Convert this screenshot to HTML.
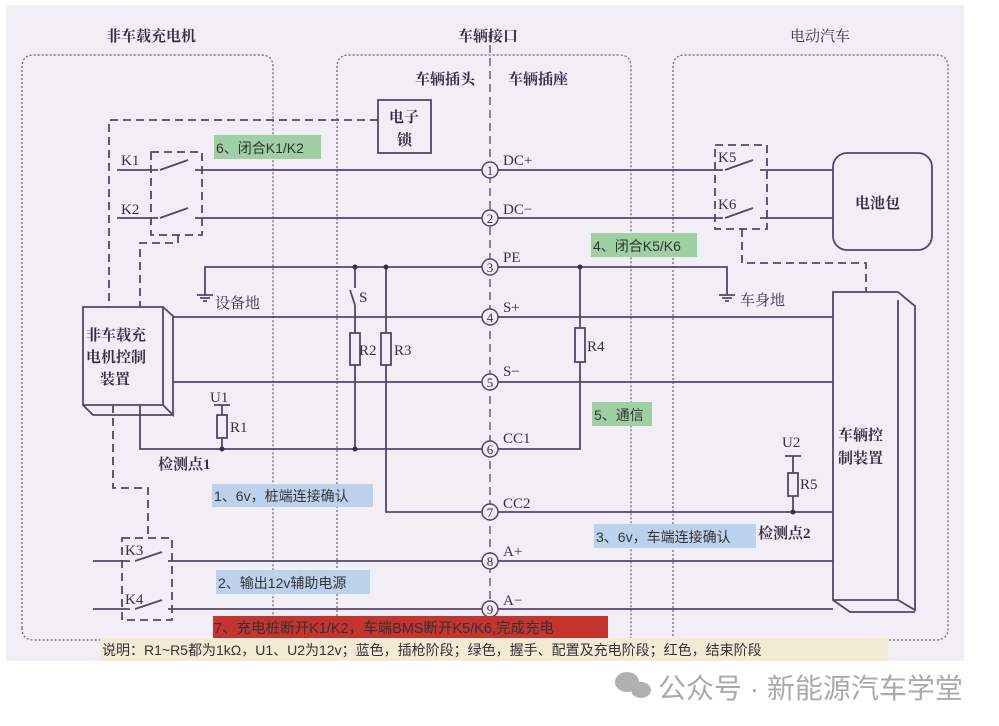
<!DOCTYPE html>
<html><head><meta charset="utf-8"><style>
html,body{margin:0;padding:0;background:#fff;width:999px;height:726px;overflow:hidden}
svg{display:block}
text{font-family:"Liberation Serif","Noto Serif CJK SC",serif;fill:#3a2f4a}
.s{font-family:"Liberation Sans","Noto Sans CJK SC",sans-serif;fill:#333}
</style></head><body>
<svg width="999" height="726" viewBox="0 0 999 726" xmlns="http://www.w3.org/2000/svg">
<rect x="6" y="5" width="958" height="656" fill="#f1eef6"/>
<g stroke="#6a5c7c" fill="none">
<g stroke-dasharray="2,2" stroke-width="1.2">
<path d="M22,628 V67 Q22,55 34,55 H261 Q273,55 273,67 V640"/>
<path d="M337,640 V67 Q337,55 349,55 H619 Q631,55 631,67 V640"/>
<path d="M673,640 V67 Q673,55 685,55 H936 Q948,55 948,67 V628 Q948,640 936,640 H880"/>
<path d="M22,628 Q22,640 34,640 H100"/>
</g>
<line x1="490" y1="32" x2="490" y2="650" stroke-dasharray="8,5" stroke-width="1.5"/>
</g>
<g stroke="#54456a" stroke-width="1.8" fill="none">
<g stroke-dasharray="8,5">
<path d="M378,120 H109 V307"/>
<path d="M178,235 V243 H140 V307"/>
<path d="M151,152 H202 V235 H151 Z"/>
<path d="M742,229 V263 H866 V292"/>
<path d="M715,145 H767 V229 H715 Z"/>
<path d="M113,405 V488 H148 V538"/>
<path d="M122,538 H172 V620 H122 Z"/>
</g>
<line x1="117" y1="170" x2="158" y2="170"/><line x1="195" y1="170" x2="482" y2="170"/>
<line x1="117" y1="218" x2="158" y2="218"/><line x1="195" y1="218" x2="482" y2="218"/>
<path d="M160,170 L188,160 M160,218 L188,208"/>
<line x1="498" y1="170" x2="723" y2="170"/><line x1="760" y1="170" x2="833" y2="170"/>
<line x1="498" y1="218" x2="723" y2="218"/><line x1="760" y1="218" x2="833" y2="218"/>
<path d="M725,170 L753,160 M725,218 L753,208"/>
<path d="M205,295 V267 H482"/><path d="M498,267 H727 V295"/>
<path d="M197,295 H213 M200,298 H210 M203,301 H207"/>
<path d="M719,295 H735 M722,298 H732 M725,301 H729"/>
<line x1="173" y1="317" x2="482" y2="317"/><line x1="498" y1="317" x2="833" y2="317"/>
<line x1="173" y1="382" x2="482" y2="382"/><line x1="498" y1="382" x2="833" y2="382"/>
<path d="M355,267 V288 M355,305 L350,290 M355,305 V333 M355,365 V449"/>
<rect x="350" y="333" width="10" height="32"/>
<path d="M386,267 V333 M386,365 V512 H482"/>
<rect x="381" y="333" width="10" height="32"/>
<path d="M140,405 V449 H482"/>
<path d="M498,449 H580 V362 M580,328 V267"/>
<rect x="575" y="328" width="10" height="34"/>
<path d="M214,405 H230 M222,405 V415 M222,438 V449"/>
<rect x="217" y="415" width="10" height="23"/>
<line x1="498" y1="512" x2="833" y2="512"/>
<path d="M785,456 H801 M793,456 V473 M793,496 V512"/>
<rect x="788" y="473" width="10" height="23"/>
<line x1="93" y1="561" x2="130" y2="561"/><line x1="168" y1="561" x2="482" y2="561"/>
<line x1="93" y1="609" x2="130" y2="609"/><line x1="168" y1="609" x2="482" y2="609"/>
<path d="M135,561 L162,552 M135,609 L162,600"/>
<line x1="498" y1="561" x2="833" y2="561"/><line x1="498" y1="609" x2="833" y2="609"/>
<rect x="378" y="100" width="53" height="53"/>
<rect x="833" y="153" width="99" height="97" rx="14"/>
<path d="M83,307 H163 L173,316 V415 L163,405 H83 Z M163,307 V405 M83,405 L93,415 H173"/>
<path d="M833,292 H898 L915,306 V610 L898,600 H833 Z M898,300 V600 M833,600 L850,612 H915"/>
</g>
<g fill="#3a2f4a">
<circle cx="355" cy="267" r="2.5"/><circle cx="386" cy="267" r="2.5"/><circle cx="580" cy="267" r="2.5"/>
<circle cx="355" cy="449" r="2.5"/><circle cx="222" cy="449" r="2.5"/><circle cx="793" cy="512" r="2.5"/>
</g>
<g stroke="#54456a" stroke-width="1.5" fill="#f1eef6">
<circle cx="490" cy="170" r="8"/><circle cx="490" cy="218" r="8"/><circle cx="490" cy="267" r="8"/>
<circle cx="490" cy="317" r="8"/><circle cx="490" cy="382" r="8"/><circle cx="490" cy="449" r="8"/>
<circle cx="490" cy="512" r="8"/><circle cx="490" cy="561" r="8"/><circle cx="490" cy="609" r="8"/>
</g>
<g font-size="13" text-anchor="middle">
<text x="490" y="175">1</text><text x="490" y="223">2</text><text x="490" y="272">3</text>
<text x="490" y="322">4</text><text x="490" y="387">5</text><text x="490" y="454">6</text>
<text x="490" y="517">7</text><text x="490" y="566">8</text><text x="490" y="614">9</text>
</g>
<g font-size="15" font-weight="bold">
<text x="106" y="41">非车载充电机</text>
<text x="458" y="41">车辆接口</text>
<text x="790" y="41" font-weight="normal">电动汽车</text>
<text x="415" y="84">车辆插头</text>
<text x="508" y="84">车辆插座</text>
<text x="389" y="122">电子</text><text x="397" y="145">锁</text>
<text x="855" y="208">电池包</text>
<text x="86" y="340">非车载充</text><text x="86" y="362">电机控制</text><text x="100" y="384">装置</text>
<text x="838" y="440">车辆控</text><text x="838" y="463">制装置</text>
<text x="158" y="469">检测点1</text><text x="758" y="538">检测点2</text>
<text x="215" y="308" font-weight="normal">设备地</text><text x="740" y="305" font-weight="normal">车身地</text>
</g>
<g font-size="15">
<text x="121" y="165">K1</text><text x="121" y="214">K2</text>
<text x="718" y="162">K5</text><text x="718" y="209">K6</text>
<text x="125" y="555">K3</text><text x="125" y="604">K4</text>
<text x="503" y="165">DC+</text><text x="503" y="214">DC−</text><text x="503" y="262">PE</text>
<text x="503" y="312">S+</text><text x="503" y="376">S−</text><text x="503" y="443">CC1</text>
<text x="503" y="508">CC2</text><text x="503" y="556">A+</text><text x="503" y="605">A−</text>
<text x="359" y="302">S</text><text x="359" y="355">R2</text><text x="394" y="355">R3</text>
<text x="587" y="351">R4</text><text x="230" y="432">R1</text><text x="800" y="489">R5</text>
<text x="210" y="402">U1</text><text x="782" y="447">U2</text>
</g>
<g class="s" font-size="14">
<rect x="214" y="135" width="107" height="24" fill="#9fd0a4"/>
<text class="s" x="216" y="153">6、闭合K1/K2</text>
<rect x="591" y="233" width="106" height="24" fill="#9fd0a4"/>
<text class="s" x="593" y="251">4、闭合K5/K6</text>
<rect x="592" y="402" width="60" height="24" fill="#9fd0a4"/>
<text class="s" x="594" y="420">5、通信</text>
<rect x="212" y="484" width="161" height="23" fill="#bcd2ec"/>
<text class="s" x="214" y="501">1、6v，桩端连接确认</text>
<rect x="216" y="570" width="154" height="24" fill="#bcd2ec"/>
<text class="s" x="218" y="588">2、输出12v辅助电源</text>
<rect x="594" y="524" width="162" height="24" fill="#bcd2ec"/>
<text class="s" x="596" y="542">3、6v，车端连接确认</text>
<rect x="213" y="616" width="395" height="22" fill="#c5342f"/>
<text class="s" x="214" y="633" font-size="14.5">7、充电桩断开K1/K2，车端BMS断开K5/K6,完成充电</text>
<rect x="100" y="638" width="788" height="23" fill="#f3ead6"/>
<text class="s" x="102" y="655" font-size="14">说明：R1~R5都为1kΩ，U1、U2为12v；蓝色，插枪阶段；绿色，握手、配置及充电阶段；红色，结束阶段</text>
</g>
<g fill="#b0b0b0">
<ellipse cx="627" cy="682" rx="12" ry="10"/><ellipse cx="641" cy="690" rx="10" ry="8"/>
</g>
<text class="s" x="658" y="698" font-size="28" style="fill:#aaa">公众号 · 新能源汽车学堂</text>
</svg>
</body></html>
